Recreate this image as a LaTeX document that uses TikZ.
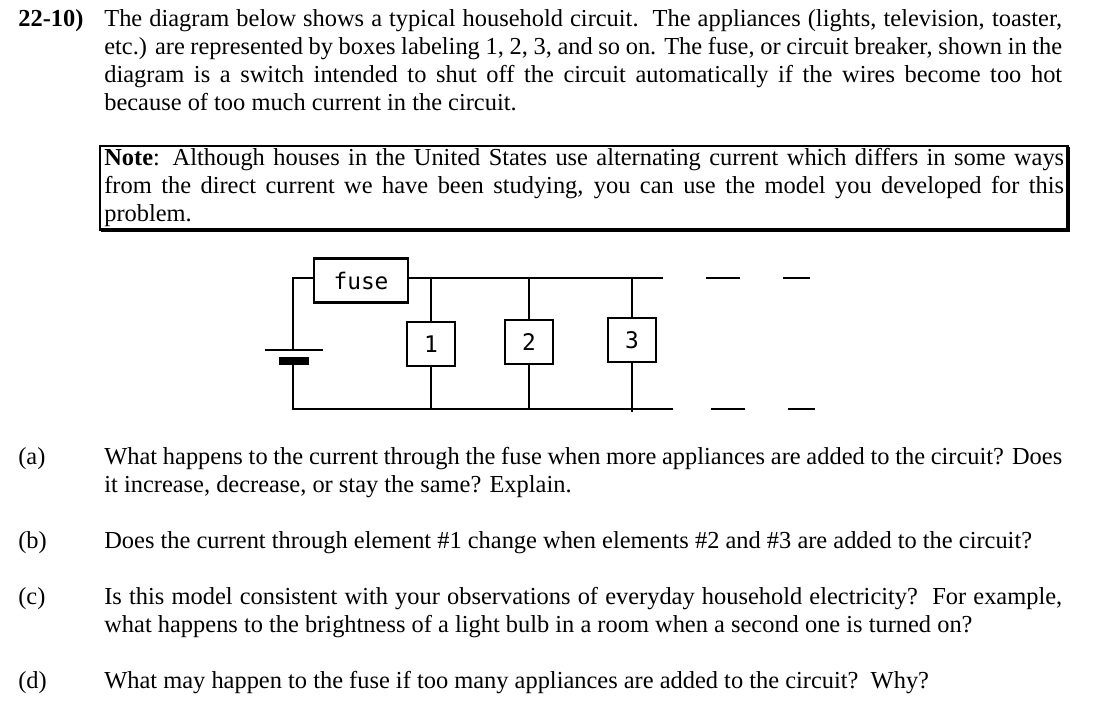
\documentclass[tikz,border=0pt]{standalone}
\usepackage{fontspec}
\setmainfont{Liberation Serif}
\newfontfamily\boxfont{DejaVu Sans Mono}
\tikzset{
  para/.style={anchor=north west, inner sep=0pt, text width=19.16cm, align=justify,
    font=\fontsize{13.9}{15.9}\selectfont},
  tag/.style={anchor=north west, inner sep=0pt, font=\fontsize{13.9}{15.9}\selectfont},
  appliance/.style={draw, line width=1.2pt, minimum width=0.96cm, minimum height=0.88cm,
    inner sep=0pt, font=\boxfont\fontsize{13}{14}\selectfont},
  wire/.style={line width=1.2pt}
}
\begin{document}
\begin{tikzpicture}[x=0.02cm, y=-0.02cm]
  \useasboundingbox (0,0) rectangle (1117,707);
  % problem text
  \node[tag] (num) at (18,9) {\textbf{22-10)}};
  \node[para] (intro) at (104,9) {The diagram below shows a typical household circuit.\ \ The appliances (lights, television, toaster,\linebreak etc.) are represented by boxes labeling 1, 2, 3, and so on. The fuse, or circuit breaker, shown in the\linebreak diagram is a switch intended to shut off the circuit automatically if the wires become too hot\linebreak because of too much current in the circuit.};
  \draw[line width=0.8pt] (100,146) rectangle (1068,230);
  \draw[line width=2.2pt] (1068,147) -- (1068,230) -- (101,230);
  \node[para, text width=19.2cm] (note) at (104,148) {\textbf{Note}: Although houses in the United States use alternating current which differs in some ways\linebreak from the direct current we have been studying, you can use the model you developed for this\linebreak problem.};
  % circuit
  \node[appliance, minimum width=1.88cm] (fuse) at (361,280.5) {fuse};
  \node[appliance] (a1) at (431,344) {1};
  \node[appliance] (a2) at (529,342) {2};
  \node[appliance] (a3) at (632,340) {3};
  \coordinate (tl) at (293,278);
  \coordinate (bl) at (293,409);
  \coordinate (tr) at (663,278);
  \coordinate (br) at (673,409);
  \draw[wire] (fuse.west |- tl) -- (tl) -- (293,350);
  \draw[wire] (265,350) -- (323,350);
  \draw[line width=5pt] (279,361) -- (309,361);
  \draw[wire] (293,361) -- (bl) -- (br);
  \draw[wire] (fuse.east |- tr) -- (tr);
  \foreach \a in {a1,a2,a3}{
    \draw[wire] (\a.north) -- (\a.north |- tr);
    \draw[wire] (\a.south) -- (\a.south |- br);
  }
  \draw[wire] (a3.south |- br) -- ++(0,3);
  \foreach \x/\w in {706/34,783/27}{
    \draw[wire] (\x,278) -- ++(\w,0);
    \draw[wire] (\x+5,409) -- ++(\w,0);
  }
  % questions
  \node[tag] (qa) at (18,447) {(a)};
  \node[para] (ta) at (104,447) {What happens to the current through the fuse when more appliances are added to the circuit? Does\linebreak it increase, decrease, or stay the same? Explain.};
  \node[tag] (qb) at (18,531) {(b)};
  \node[para] (tb) at (104,531) {Does the current through element \#1 change when elements \#2 and \#3 are added to the circuit?};
  \node[tag] (qc) at (18,587) {(c)};
  \node[para] (tc) at (104,587) {Is this model consistent with your observations of everyday household electricity?\ \ For example,\linebreak what happens to the brightness of a light bulb in a room when a second one is turned on?};
  \node[tag] (qd) at (18,671) {(d)};
  \node[para] (td) at (104,671) {What may happen to the fuse if too many appliances are added to the circuit?\ \ Why?};
\end{tikzpicture}
\end{document}
